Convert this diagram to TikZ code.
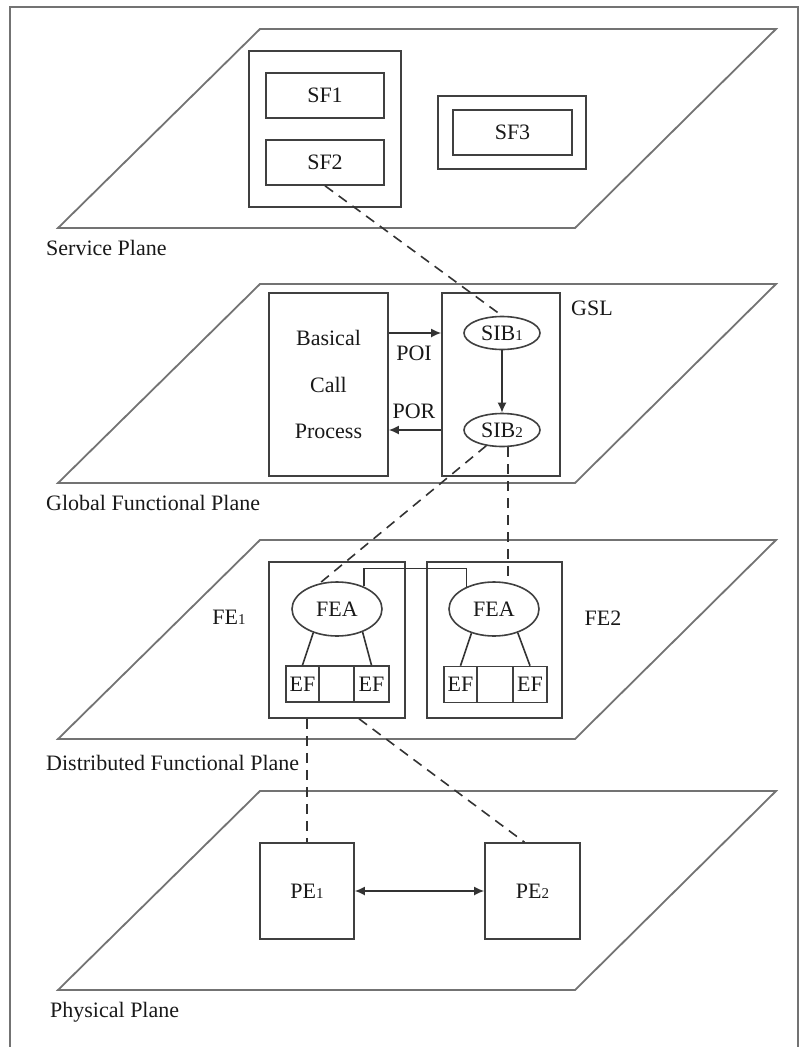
\documentclass[tikz,border=0pt]{standalone}
\usepackage{fontspec}
\setmainfont{Liberation Serif}
\usetikzlibrary{shapes.geometric,arrows.meta}
\newcommand{\idx}[1]{{\fontsize{15}{15}\selectfont #1}}
\newcommand{\drawplane}[1]{\draw[planeline] (260,#1) -- (776,#1) -- (575,{#1+199}) -- (58,{#1+199}) -- cycle;}
\begin{document}
\begin{tikzpicture}[x=1pt,y=-1pt,>={Latex[length=10pt,width=9pt]},
  every node/.style={inner sep=0pt,text=black!90,font=\fontsize{22}{26}\selectfont},
  planeline/.style={draw=black!55,line width=1.8pt},
  box/.style={draw=black!75,line width=1.6pt},
  oval/.style={ellipse,draw=black!75,line width=1.6pt},
  link/.style={draw=black!80,line width=1.6pt},
  dashlink/.style={link,dash pattern=on 10pt off 7pt}]
\useasboundingbox (0,0) rectangle (803,1047);
\draw[black!55,line width=1.6pt] (10,1047) -- (10,7) -- (798,7) -- (798,1047);
% planes
\drawplane{29}
\drawplane{284}
\drawplane{540}
\drawplane{791}
\node[anchor=west] (servlbl) at (46,248) {Service Plane};
\node[anchor=west] (gfplbl) at (46,503) {Global Functional Plane};
\node[anchor=west] (dfplbl) at (46,763) {Distributed Functional Plane};
\node[anchor=west] (physlbl) at (50,1012) {Physical Plane};
% service plane
\node[box,minimum width=152pt,minimum height=156pt] (sfgrp) at (325,129) {};
\node[box,minimum width=118pt,minimum height=45pt] (sf1) at (325,95.5) {SF1};
\node[box,minimum width=118pt,minimum height=45pt] (sf2) at (325,162.5) {SF2};
\node[box,minimum width=148pt,minimum height=73pt] (sf3grp) at (512,132.5) {};
\node[box,minimum width=119pt,minimum height=45pt] (sf3) at (512.5,132.5) {SF3};
% global functional plane
\node[box,minimum width=119pt,minimum height=183pt,align=center,
  font=\fontsize{22}{46.5}\selectfont] (bcp) at (328.5,384.5) {Basical\\Call\\Process};
\node[box,minimum width=118pt,minimum height=183pt] (gsl) at (501,384.5) {};
\node (gsllbl) at (592,308) {GSL};
\node[oval,minimum width=76pt,minimum height=33pt] (sib1) at (502,333) {SIB\idx{1}};
\node[oval,minimum width=76pt,minimum height=33pt] (sib2) at (502,430) {SIB\idx{2}};
\draw[link,->] (bcp.east |- sib1) -- (gsl.west |- sib1);
\draw[link,->] (gsl.west |- sib2) -- (bcp.east |- sib2);
\node (poi) at (414,353) {POI};
\node (por) at (414,411) {POR};
\draw[link,->] (sib1) -- (sib2);
% distributed functional plane
\node[box,minimum width=136pt,minimum height=156pt] (fe1) at (337,640) {};
\node[box,minimum width=135pt,minimum height=156pt] (fe2) at (494.5,640) {};
\node (fe1lbl) at (229,617) {FE\idx{1}};
\node (fe2lbl) at (603,618) {FE2};
\node[oval,minimum width=90pt,minimum height=54pt] (fea1) at (337,609) {FEA};
\node[oval,minimum width=90pt,minimum height=54pt] (fea2) at (494,609) {FEA};
\node[box,minimum width=33pt,minimum height=36pt] (efa1) at (302.5,684) {EF};
\node[box,minimum width=35pt,minimum height=36pt] (efm1) at (336.5,684) {};
\node[box,minimum width=35pt,minimum height=36pt] (efb1) at (371.5,684) {EF};
\node[box,minimum width=33pt,minimum height=36pt] (efa2) at (460.5,684.5) {EF};
\node[box,minimum width=36pt,minimum height=36pt] (efm2) at (495,684.5) {};
\node[box,minimum width=34pt,minimum height=36pt] (efb2) at (530,684.5) {EF};
\draw[link] (fea1.225) -- (efa1.north);
\draw[link] (fea1.318) -- (efb1.north);
\draw[link] (fea2.227) -- (efa2.north);
\draw[link] (fea2.315) -- (efb2.north);
\draw[link] (fea1.40) -- ++(0,-18) -| (fea2.141);
% physical plane
\node[box,minimum width=94pt,minimum height=96pt] (pe1) at (307,891) {PE\idx{1}};
\node[box,minimum width=95pt,minimum height=96pt] (pe2) at (532.5,891) {PE\idx{2}};
\draw[link,<->] (pe1) -- (pe2);
% mappings between planes
\draw[dashlink] (sf2.south) -- (sib1.north);
\draw[dashlink] (sib2.225) -- (fea1.124);
\draw[dashlink] (sib2.290) -- (sib2.290 |- fea2.north);
\draw[dashlink] (pe1.north |- fe1.south) -- (pe1.north);
\draw[dashlink] ([xshift=22pt]fe1.south) -- ([xshift=-8pt]pe2.north);
\end{tikzpicture}
\end{document}
